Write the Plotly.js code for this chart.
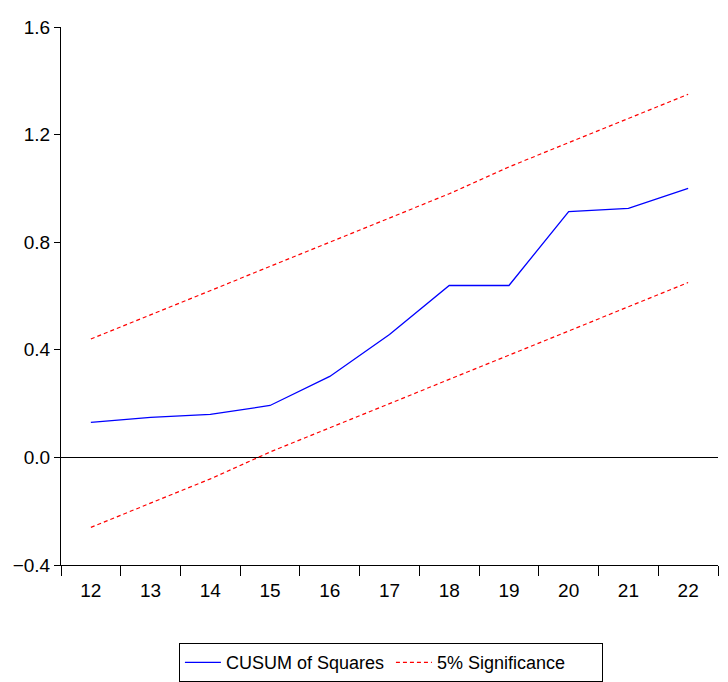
<!DOCTYPE html>
<html>
<head>
<meta charset="utf-8">
<script src="https://cdn.plot.ly/plotly-3.0.1.min.js"></script>
<style>html,body{margin:0;padding:0;background:#fff;}#chart{width:728px;height:682px;}</style>
</head>
<body>
<div id="chart"></div>
<script>
var periods = ["12","13","14","15","16","17","18","19","20","21","22"];
var cusumSq = [0.130, 0.149, 0.160, 0.193, 0.301, 0.457, 0.639, 0.639, 0.914, 0.926, 1.000];
var upper = [0.44, 0.53, 0.62, 0.71, 0.80, 0.89, 0.98, 1.08, 1.17, 1.26, 1.35];
var lower = [-0.26, -0.17, -0.08, 0.02, 0.11, 0.20, 0.29, 0.38, 0.47, 0.56, 0.65];
var yTicks = [-0.4, 0.0, 0.4, 0.8, 1.2, 1.6];

var font = "'Liberation Sans', Arial, sans-serif";

var traces = [
  {x: periods, y: cusumSq, type: 'scatter', mode: 'lines', name: 'CUSUM of Squares',
   line: {color: '#0000ff', width: 1.3}},
  {x: periods, y: upper, type: 'scatter', mode: 'lines', name: '5% Significance',
   line: {color: '#ff0000', width: 1.2, dash: '4px,3px'}},
  {x: periods, y: lower, type: 'scatter', mode: 'lines', name: '5% Significance',
   showlegend: false, line: {color: '#ff0000', width: 1.2, dash: '4px,3px'}}
];

var layout = {
  width: 728, height: 682,
  margin: {l: 61, r: 10, t: 27, b: 117},
  paper_bgcolor: '#ffffff', plot_bgcolor: '#ffffff',
  font: {family: font, size: 19, color: '#000'},
  showlegend: true,
  legend: {orientation: 'h', xref: 'container', yref: 'container',
           x: 0.537, xanchor: 'center', y: 0.057, yanchor: 'top',
           bordercolor: '#000', borderwidth: 1, font: {family: font, size: 18},
           entrywidth: 160, entrywidthmode: 'pixels', itemwidth: 36},
  xaxis: {type: 'category', tickson: 'boundaries', range: [-0.5, 10.5],
          showline: true, linecolor: '#000', linewidth: 1, ticks: 'outside',
          ticklen: 10, tickcolor: '#000', showgrid: false, zeroline: false,
          ticklabelstandoff: 8,
          tickfont: {family: font, size: 19}},
  yaxis: {range: [-0.4, 1.6], tickvals: yTicks, tickformat: '.1f',
          showline: true, linecolor: '#000', linewidth: 1, ticks: 'outside',
          ticklen: 6, tickcolor: '#000', showgrid: false,
          zeroline: true, zerolinecolor: '#000', zerolinewidth: 1,
          tickfont: {family: font, size: 19}}
};

Plotly.newPlot('chart', traces, layout, {displayModeBar: false, staticPlot: true});
</script>
</body>
</html>
